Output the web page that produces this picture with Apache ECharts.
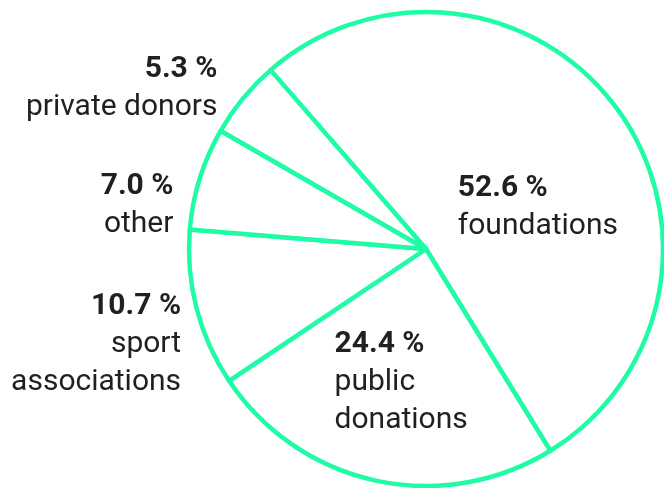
<!DOCTYPE html>
<html>
<head>
<meta charset="utf-8">
<script src="https://cdn.jsdelivr.net/npm/echarts@6/dist/echarts.min.js"></script>
<style>
  html, body { margin: 0; padding: 0; background: #fff; }
  #chart { width: 664px; height: 488px; }
</style>
</head>
<body>
<div id="chart"></div>
<script>
const categories = ['foundations', 'public donations', 'sport associations', 'other', 'private donors'];
const labelNames = ['foundations', 'public\ndonations', 'sport\nassociations', 'other', 'private donors'];
const shares = [52.6, 24.4, 10.7, 7.0, 5.3];

// label tweaks per slice (inside for the big ones, outside for the rest)
const labelPlace = [
  { position: 'inside', side: 'l', offset: [14, 30] },
  { position: 'inside', side: 'l', offset: [1, 15] },
  { position: 'outside', side: 'r', offset: [19, 32] },
  { position: 'outside', side: 'r', offset: [8, 32] },
  { position: 'outside', side: 'r', offset: [6, 0] }
];

const green = '#1efca6';
const ink = '#231f20';

const myChart = echarts.init(document.getElementById('chart'));

const boldStyle = { fontSize: 30, fontWeight: 'bold', color: ink, fontFamily: 'Roboto', lineHeight: 38 };
const normStyle = { fontSize: 30, color: ink, fontFamily: 'Roboto', lineHeight: 38 };

const option = {
  animation: false,
  series: [
    {
      type: 'pie',
      center: [426, 249],
      radius: 237,
      startAngle: 131,
      clockwise: true,
      avoidLabelOverlap: false,
      itemStyle: {
        color: '#fff',
        borderColor: green,
        borderWidth: 4.5
      },
      emphasis: { disabled: true },
      labelLine: { show: false, length: 15, length2: 15 },
      label: {
        color: ink,
        fontFamily: 'Roboto',
        rich: {
          bl: Object.assign({ align: 'left' }, boldStyle),
          nl: Object.assign({ align: 'left' }, normStyle),
          br: Object.assign({ align: 'right' }, boldStyle),
          nr: Object.assign({ align: 'right' }, normStyle)
        }
      },
      data: categories.map(function (name, i) {
        const pl = labelPlace[i];
        const s = pl.side;
        const txt = '{b' + s + '|' + shares[i].toFixed(1) + ' %}\n' +
          labelNames[i].split('\n').map(function (t) { return '{n' + s + '|' + t + '}'; }).join('\n');
        return {
          name: name,
          value: shares[i],
          label: {
            position: pl.position,
            offset: pl.offset,
            formatter: txt
          }
        };
      })
    }
  ]
};

myChart.setOption(option);

window.addEventListener('resize', function () {
  myChart.resize();
});
</script>
</body>
</html>
